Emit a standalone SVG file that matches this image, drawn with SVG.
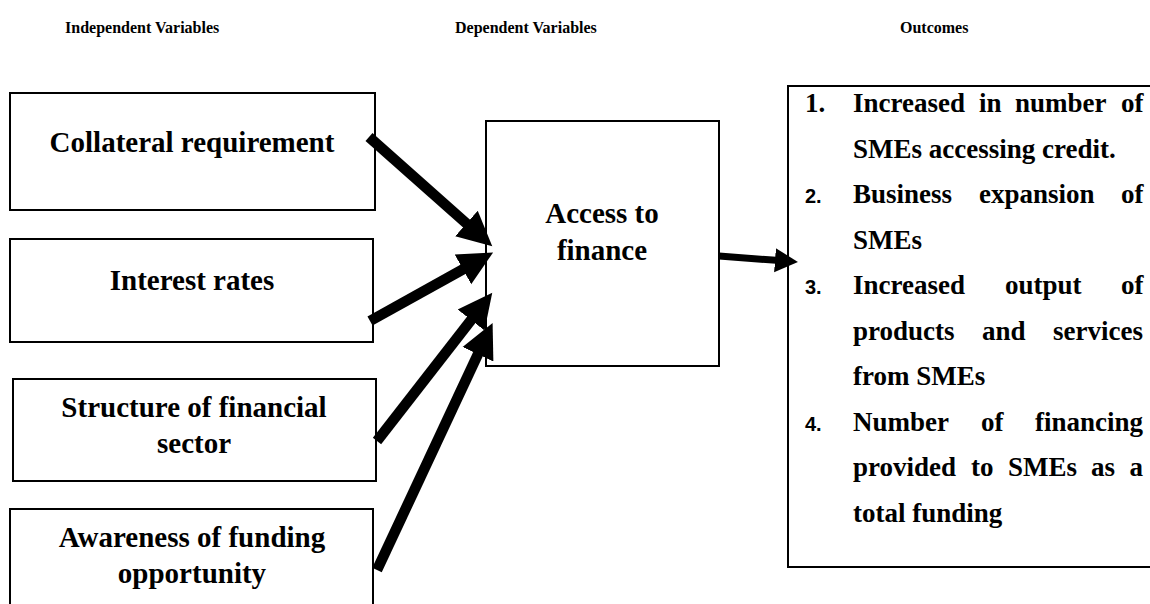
<svg xmlns="http://www.w3.org/2000/svg" width="1150" height="604" viewBox="0 0 1150 604">
<style>
  .box { fill: #fff; stroke: #000; stroke-width: 2; }
  .hdr { font-family: "Liberation Serif", "Times New Roman", serif; font-weight: bold; font-size: 16px; fill: #000; }
  .lbl { font-family: "Liberation Serif", "Times New Roman", serif; font-weight: bold; font-size: 29px; fill: #000; text-anchor: middle; }
  .out { font-family: "Liberation Serif", "Times New Roman", serif; font-weight: bold; font-size: 27px; fill: #000; }
  .num { font-family: "Liberation Sans", Arial, sans-serif; font-weight: bold; font-size: 20px; fill: #000; }
  .thick { stroke: #000; stroke-width: 10.5; fill: none; }
  .thin { stroke: #000; stroke-width: 7; fill: none; }
</style>
<defs>
  <marker id="bighead" markerUnits="userSpaceOnUse" markerWidth="40" markerHeight="40" viewBox="0 -20 40 40" refX="1" refY="0" orient="auto">
    <path d="M0,-17 L34.5,0 L0,17 z" fill="#000"/>
  </marker>
  <marker id="smallhead" markerUnits="userSpaceOnUse" markerWidth="30" markerHeight="30" viewBox="0 -15 30 30" refX="1" refY="0" orient="auto">
    <path d="M0,-12 L23,0 L0,12 z" fill="#000"/>
  </marker>
</defs>

<g id="headers">
  <text class="hdr" x="65" y="33">Independent Variables</text>
  <text class="hdr" x="455" y="33">Dependent Variables</text>
  <text class="hdr" x="900" y="33">Outcomes</text>
</g>

<g id="node-collateral">
  <rect class="box" x="10" y="93" width="365" height="117"/>
  <text class="lbl" x="192" y="152">Collateral requirement</text>
</g>
<g id="node-interest">
  <rect class="box" x="10" y="239" width="363" height="103"/>
  <text class="lbl" x="192" y="290">Interest rates</text>
</g>
<g id="node-structure">
  <rect class="box" x="13" y="379" width="363" height="102"/>
  <text class="lbl" x="194" y="417">Structure of financial</text>
  <text class="lbl" x="194" y="453">sector</text>
</g>
<g id="node-awareness">
  <rect class="box" x="10" y="509" width="363" height="110"/>
  <text class="lbl" x="192" y="547">Awareness of funding</text>
  <text class="lbl" x="192" y="583">opportunity</text>
</g>
<g id="node-access">
  <rect class="box" x="486" y="121" width="233" height="245"/>
  <text class="lbl" x="602" y="223">Access to</text>
  <text class="lbl" x="602" y="260">finance</text>
</g>
<g id="node-outcomes">
  <rect class="box" x="788" y="86" width="372" height="481"/>
  <text class="out" x="805" y="112">1.</text>
  <text class="out" y="112"><tspan x="853">Increased</tspan><tspan x="979">in</tspan><tspan x="1015">number</tspan><tspan x="1121">of</tspan></text>
  <text class="out" x="853" y="157.5">SMEs accessing credit.</text>
  <text class="num" x="805" y="203">2.</text>
  <text class="out" y="203"><tspan x="853">Business</tspan><tspan x="979">expansion</tspan><tspan x="1121">of</tspan></text>
  <text class="out" x="853" y="248.5">SMEs</text>
  <text class="num" x="805" y="294">3.</text>
  <text class="out" y="294"><tspan x="853">Increased</tspan><tspan x="1005">output</tspan><tspan x="1121">of</tspan></text>
  <text class="out" y="339.5"><tspan x="853">products</tspan><tspan x="982">and</tspan><tspan x="1053">services</tspan></text>
  <text class="out" x="853" y="385">from SMEs</text>
  <text class="num" x="805" y="430.5">4.</text>
  <text class="out" y="430.5"><tspan x="853">Number</tspan><tspan x="981">of</tspan><tspan x="1035">financing</tspan></text>
  <text class="out" y="476"><tspan x="853">provided</tspan><tspan x="971">to</tspan><tspan x="1008">SMEs</tspan><tspan x="1091">as</tspan><tspan x="1129.5">a</tspan></text>
  <text class="out" x="853" y="521.5">total funding</text>
</g>

<g id="connectors">
  <line class="thick" x1="369" y1="137" x2="467.2" y2="224.1" marker-end="url(#bighead)"/>
  <line class="thick" x1="370" y1="321" x2="463.8" y2="268.8" marker-end="url(#bighead)"/>
  <line class="thick" x1="377" y1="441" x2="471.7" y2="319.2" marker-end="url(#bighead)"/>
  <line class="thick" x1="377" y1="570" x2="478.4" y2="353.3" marker-end="url(#bighead)"/>
  <line class="thin" x1="719" y1="256" x2="776" y2="260.3" marker-end="url(#smallhead)"/>
</g>
</svg>
